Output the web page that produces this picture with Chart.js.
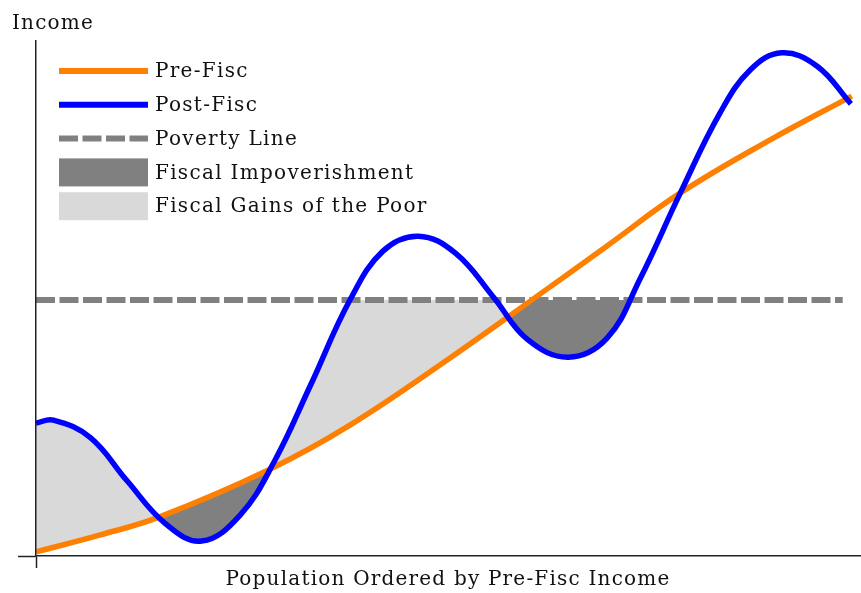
<!DOCTYPE html>
<html>
<head>
<meta charset="utf-8">
<script src="https://cdn.jsdelivr.net/npm/chart.js@4.4.0/dist/chart.umd.min.js"></script>
<style>
  body { margin: 0; background: #fff; }
</style>
</head>
<body>
<canvas id="fiscChart" width="861" height="593"></canvas>
<script>
// values (x: population share, y: income, both 0..100)
const preFiscX = [0, 7.8, 15.0, 28.2, 38.1, 50.2, 61.2, 69.3, 78.2, 89.1, 99.0];
const preFiscY = [0.8, 4.1, 7.6, 16.7, 25.4, 38.4, 50.9, 60.2, 70.5, 80.8, 89.3];

const postFiscX = [0, 2.1, 6.6, 11.0, 15.7, 20.1, 24.8, 29.0, 33.3, 38.1, 42.1, 46.4,
    50.9, 55.5, 59.6, 64.6, 69.3, 73.3, 78.2, 83.0, 86.7, 90.5, 94.8, 98.9];
const postFiscY = [25.8, 26.4, 23.0, 14.7, 6.3, 2.9, 8.0, 18.6, 33.1, 49.7, 59.2, 62.1,
    58.8, 50.3, 42.1, 38.6, 42.3, 53.8, 70.5, 86.0, 94.4, 97.7, 95.1, 87.8];

const povertyLevel = 49.7;
const povertyX = [0, 97.9];
const povertyY = [povertyLevel, povertyLevel];

const xMin = 0, xMax = 100;
const yMin = 0, yMax = 100;

const legendLabels = ['Pre-Fisc', 'Post-Fisc', 'Poverty Line', 'Fiscal Impoverishment', 'Fiscal Gains of the Poor'];

const serif = "'DejaVu Serif', 'Liberation Serif', serif";
const textColor = '#111';
const orange = '#ff8000';
const blue = '#0000ff';
const darkGray = '#808080';
const lightGray = '#d9d9d9';

function toPoints(xs, ys) {
    return xs.map((x, i) => ({ x: x, y: ys[i] }));
}

// the original typeface is wider than DejaVu, so spread the letters a bit
const wideText = {
    id: 'wideText',
    beforeDraw(chart) {
        chart.ctx.letterSpacing = '1.2px';
    }
};

// legend sits inside the plot, top left
const insideLegend = {
    id: 'insideLegend',
    afterDraw(chart) {
        const ctx = chart.ctx;
        const left = chart.chartArea.left + 23;
        const top = chart.chartArea.top + 30;
        const swatch = 89;
        const step = 33.8;
        const textX = left + swatch + 7;
        ctx.save();
        legendLabels.forEach((label, i) => {
            const y = top + i * step;
            if (i < 3) {
                ctx.beginPath();
                ctx.lineCap = 'butt';
                ctx.lineWidth = 6;
                ctx.strokeStyle = i === 0 ? orange : (i === 1 ? blue : darkGray);
                ctx.setLineDash(i === 2 ? [19, 4.5] : []);
                ctx.moveTo(left, y);
                ctx.lineTo(left + swatch, y);
                ctx.stroke();
            } else {
                ctx.fillStyle = i === 3 ? darkGray : lightGray;
                ctx.fillRect(left, y - 14, swatch, 28);
            }
            ctx.setLineDash([]);
            ctx.fillStyle = textColor;
            ctx.font = '20px ' + serif;
            ctx.letterSpacing = '1.3px';
            ctx.textBaseline = 'middle';
            ctx.textAlign = 'left';
            ctx.fillText(label, textX, y + 1);
        });
        ctx.restore();
    }
};

const ctx = document.getElementById('fiscChart').getContext('2d');
const fiscChart = new Chart(ctx, {
    type: 'line',
    data: {
        datasets: [
            {
                // white cover so the shaded areas stop at the poverty line
                label: 'cover',
                data: [{ x: xMin, y: povertyLevel }, { x: xMax, y: povertyLevel }],
                borderWidth: 0,
                pointRadius: 0,
                backgroundColor: '#ffffff',
                fill: 'end'
            },
            {
                label: 'Post-Fisc',
                data: toPoints(postFiscX, postFiscY),
                borderColor: blue,
                borderWidth: 5.5,
                pointRadius: 0,
                tension: 0.4,
                fill: { target: 2, above: lightGray, below: darkGray }
            },
            {
                label: 'Pre-Fisc',
                data: toPoints(preFiscX, preFiscY),
                borderColor: orange,
                borderWidth: 5.5,
                pointRadius: 0,
                tension: 0.4,
                fill: false
            },
            {
                label: 'Poverty Line',
                data: toPoints(povertyX, povertyY),
                borderColor: darkGray,
                borderWidth: 6,
                borderDash: [19, 4.5],
                borderCapStyle: 'butt',
                pointRadius: 0,
                fill: false
            }
        ]
    },
    options: {
        responsive: false,
        animation: false,
        layout: { padding: { left: 12, right: 1, top: 0, bottom: 0 } },
        plugins: {
            legend: { display: false },
            tooltip: { enabled: false },
            filler: { propagate: false, drawTime: 'beforeDatasetsDraw' },
            title: {
                display: true,
                text: 'Income',
                align: 'start',
                color: textColor,
                font: { family: serif, size: 20, weight: 'normal' },
                padding: { top: 12, bottom: 5 }
            }
        },
        scales: {
            x: {
                type: 'linear',
                min: xMin,
                max: xMax,
                afterBuildTicks: (axis) => { axis.ticks = [{ value: xMin }]; },
                afterFit: (axis) => { axis.height = 37; },
                ticks: { display: false },
                grid: { display: true, drawOnChartArea: false, drawTicks: true, tickLength: 12, tickColor: '#222', tickWidth: 1.5 },
                border: { display: true, color: '#222', width: 1.5, z: 1 },
                title: {
                    display: true,
                    text: 'Population Ordered by Pre-Fisc Income',
                    color: textColor,
                    font: { family: serif, size: 20 },
                    padding: { top: 0, bottom: 1 }
                }
            },
            y: {
                type: 'linear',
                min: yMin,
                max: yMax,
                afterBuildTicks: (axis) => { axis.ticks = [{ value: yMin }]; },
                afterFit: (axis) => { axis.width = 24; },
                ticks: { display: false },
                grid: { display: true, drawOnChartArea: false, drawTicks: true, tickLength: 18, tickColor: '#222', tickWidth: 1.5 },
                border: { display: true, color: '#222', width: 1.5, z: 1 }
            }
        }
    },
    plugins: [wideText, insideLegend]
});
</script>
</body>
</html>
